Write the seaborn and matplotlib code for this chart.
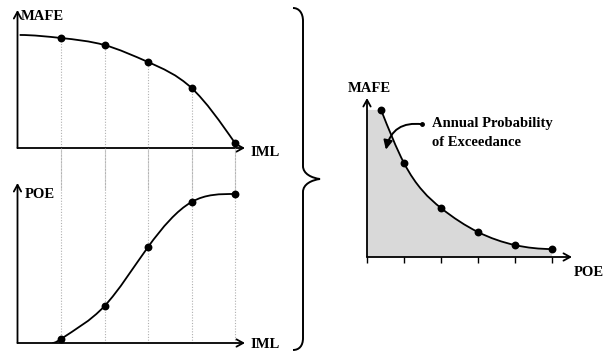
import numpy as np
import matplotlib
matplotlib.use("Agg")
import matplotlib.pyplot as plt
from matplotlib.path import Path
from matplotlib.patches import PathPatch
import seaborn as sns

# ---- data ---------------------------------------------------------------
iml = [1, 2, 3, 4, 5]
mafe_vs_iml = [0.797, 0.746, 0.623, 0.435, 0.036]
mafe_curve_start = (0.05, 0.819)

poe_vs_iml = [0.027, 0.248, 0.644, 0.946, 1.0]
poe_curve_start = (0.8, 0.0)

poe = [0.38, 1, 2, 3, 4, 5]
mafe_vs_poe = [0.925, 0.591, 0.308, 0.157, 0.075, 0.050]
poe_ticks = [0, 1, 2, 3, 4, 5]

annotation_lines = ["Annual Probability", "of Exceedance"]

# ---- style --------------------------------------------------------------
sns.set_theme(style="white")
plt.rcParams["font.family"] = ["Liberation Serif", "DejaVu Serif"]
LABEL = dict(fontsize=10.5, fontweight="bold", color="black")
W, H = 605, 353
fig = plt.figure(figsize=(W / 100, H / 100), dpi=100)


def axes_px(left, top, right, bottom):
    """Add axes given pixel edges measured from the top-left corner."""
    ax = fig.add_axes([left / W, 1 - bottom / H, (right - left) / W, (bottom - top) / H])
    ax.patch.set_alpha(0)
    for s in ax.spines.values():
        s.set_visible(False)
    ax.set_xticks([])
    ax.set_yticks([])
    return ax


def draw_arrows(ax):
    kw = dict(arrowstyle="->,head_length=0.4,head_width=0.22", lw=1.3, color="black",
              shrinkA=0, shrinkB=0)
    ax.annotate("", xy=(1, 0), xytext=(0, 0), xycoords="axes fraction",
                arrowprops=kw, annotation_clip=False)
    ax.annotate("", xy=(0, 1), xytext=(0, 0), xycoords="axes fraction",
                arrowprops=kw, annotation_clip=False)


def spline_slopes(xs, ys, start=None, end=None):
    """Slopes of a C2 cubic spline through the knots (clamped or natural ends)."""
    xs, ys = np.asarray(xs, float), np.asarray(ys, float)
    n = len(xs)
    h = np.diff(xs)
    d = np.diff(ys) / h
    A = np.zeros((n, n))
    b = np.zeros(n)
    for k in range(1, n - 1):
        A[k, k - 1] = h[k]
        A[k, k] = 2 * (h[k - 1] + h[k])
        A[k, k + 1] = h[k - 1]
        b[k] = 3 * (h[k] * d[k - 1] + h[k - 1] * d[k])
    if start is None:
        A[0, 0], A[0, 1], b[0] = 2, 1, 3 * d[0]
    else:
        A[0, 0], b[0] = 1, start
    if end is None:
        A[-1, -2], A[-1, -1], b[-1] = 1, 2, 3 * d[-1]
    else:
        A[-1, -1], b[-1] = 1, end
    return np.linalg.solve(A, b)


def bezier_vertices(xs, ys, m):
    verts = [(xs[0], ys[0])]
    codes = [Path.MOVETO]
    for k in range(len(xs) - 1):
        h = xs[k + 1] - xs[k]
        verts += [(xs[k] + h / 3, ys[k] + m[k] * h / 3),
                  (xs[k + 1] - h / 3, ys[k + 1] - m[k + 1] * h / 3),
                  (xs[k + 1], ys[k + 1])]
        codes += [Path.CURVE4] * 3
    return verts, codes


def smooth_curve(ax, xs, ys, m):
    verts, codes = bezier_vertices(xs, ys, m)
    ax.add_patch(PathPatch(Path(verts, codes), fc="none", ec="black", lw=1.3, zorder=3))


def dots(ax, x, y):
    sns.scatterplot(x=x, y=y, ax=ax, color="black", s=32, edgecolor="black",
                    linewidth=0, zorder=4, legend=False)
    ax.set_xlabel("")
    ax.set_ylabel("")


dot_style = dict(color="#b0b0b0", lw=0.8, ls=(0, (1, 1.5)), zorder=1)

# ---- top-left: MAFE vs IML ---------------------------------------------
ax1 = axes_px(17.5, 10, 245, 148)
xs1 = [mafe_curve_start[0]] + iml
ys1 = [mafe_curve_start[1]] + mafe_vs_iml
smooth_curve(ax1, xs1, ys1, spline_slopes(xs1, ys1, start=0.0))
dots(ax1, iml, mafe_vs_iml)
ax1.vlines(iml, -0.3, mafe_vs_iml, clip_on=False, **dot_style)
ax1.set_xlim(0, 227.5 / 43.5)
ax1.set_ylim(0, 1)
draw_arrows(ax1)
fig.text(21 / W, 1 - 16 / H, "MAFE", ha="left", va="center", **LABEL)
fig.text(250 / W, 1 - 152 / H, "IML", ha="left", va="center", **LABEL)

# ---- bottom-left: POE vs IML -------------------------------------------
ax2 = axes_px(17.5, 183, 245, 343)
xs2 = [poe_curve_start[0]] + iml
ys2 = [poe_curve_start[1]] + poe_vs_iml
smooth_curve(ax2, xs2, ys2, spline_slopes(xs2, ys2, start=0.0, end=0.0))
dots(ax2, iml, poe_vs_iml)
ax2.vlines(iml, 0, 195 / 149, clip_on=False, **dot_style)
ax2.set_xlim(0, 227.5 / 43.5)
ax2.set_ylim(0, 160 / 149)
draw_arrows(ax2)
fig.text(25 / W, 1 - 195 / H, "POE", ha="left", va="center", **LABEL)
fig.text(250 / W, 1 - 344 / H, "IML", ha="left", va="center", **LABEL)

# ---- right: MAFE vs POE (hazard curve) ---------------------------------
ax3 = axes_px(367, 98, 572, 257)
m3 = spline_slopes(poe, mafe_vs_poe, end=0.0)
verts, codes = bezier_vertices(poe, mafe_vs_poe, m3)
fill_verts = [(0, 0), (0, mafe_vs_poe[0])] + verts + [(poe[-1], 0), (0, 0)]
fill_codes = [Path.MOVETO, Path.LINETO, Path.LINETO] + codes[1:] + [Path.LINETO, Path.CLOSEPOLY]
ax3.add_patch(PathPatch(Path(fill_verts, fill_codes), fc="#d9d9d9", ec="none", zorder=1))
smooth_curve(ax3, poe, mafe_vs_poe, m3)
dots(ax3, poe, mafe_vs_poe)
ax3.set_xlim(0, 205 / 37)
ax3.set_ylim(0, 1)
ax3.set_xticks(poe_ticks)
ax3.tick_params(axis="x", direction="out", length=4, width=1, color="black",
                labelbottom=False, bottom=True)
draw_arrows(ax3)
fig.text(348 / W, 1 - 88 / H, "MAFE", ha="left", va="center", **LABEL)
fig.text(574 / W, 1 - 272 / H, "POE", ha="left", va="center", **LABEL)

ax3.annotate("", xy=(0.51, 0.675), xytext=(1.49, 0.835),
             arrowprops=dict(arrowstyle="-|>,head_length=0.45,head_width=0.22",
                             connectionstyle="arc3,rad=0.45", lw=1.4, color="black",
                             shrinkA=0, shrinkB=0), zorder=5)
ax3.plot([1.49], [0.835], marker="o", ms=2.5, color="black", zorder=5)
fig.text(432 / W, 1 - 124 / H, annotation_lines[0], ha="left", va="center", **LABEL)
fig.text(432 / W, 1 - 142 / H, annotation_lines[1], ha="left", va="center", **LABEL)

# ---- curly brace joining the two left panels to the right one -----------
bx, tip_x, cusp_x = 303, 293, 320
brace_px = [
    (tip_x, 8), (299, 8), (bx, 13), (bx, 21),
    (bx, 166),
    (bx, 174), (312, 178), (cusp_x, 179),
    (312, 180), (bx, 184), (bx, 192),
    (bx, 338),
    (bx, 346), (299, 350), (tip_x, 350),
]
brace_codes = [Path.MOVETO, Path.CURVE4, Path.CURVE4, Path.CURVE4,
               Path.LINETO,
               Path.CURVE4, Path.CURVE4, Path.CURVE4,
               Path.CURVE4, Path.CURVE4, Path.CURVE4,
               Path.LINETO,
               Path.CURVE4, Path.CURVE4, Path.CURVE4]
brace_fig = [(x / W, 1 - y / H) for x, y in brace_px]
fig.patches.append(PathPatch(Path(brace_fig, brace_codes), fc="none", ec="black",
                             lw=1.4, transform=fig.transFigure))

fig.savefig("out.png", dpi=100, facecolor="white")
